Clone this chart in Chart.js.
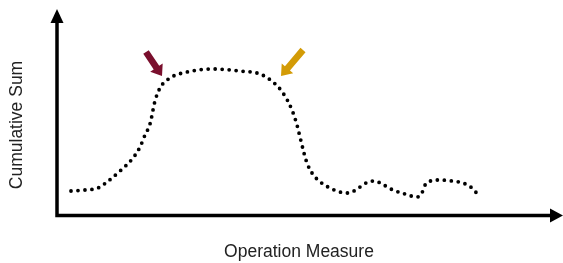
<!DOCTYPE html>
<html>
<head>
<meta charset="utf-8">
<script src="https://cdn.jsdelivr.net/npm/chart.js@4"></script>
<style>
  html, body { margin: 0; padding: 0; background: #fff; }
  #wrap { width: 563px; height: 263px; }
</style>
</head>
<body>
<div id="wrap"><canvas id="curveCanvas"></canvas></div>
<script>
// curve (x: operation measure, y: cumulative sum, 0..100)
const opMeasure = [2.8, 5.6, 8.2, 10, 12.6, 15.2, 16.6, 17.6, 18.6, 19.6, 20.6, 22.6, 26, 31.2, 36.6, 40.6, 43.2, 45.2, 47, 48, 48.6, 49.4, 50, 51, 52.2, 54.2, 56.6, 58, 59.4, 60.6, 62.2, 63.6, 65, 67.2, 69.6, 72, 73, 73.4, 74.2, 76.6, 79, 81.2, 83, 84.4];
const cumSum = [11.5, 12, 13, 16, 21.5, 28, 33.5, 39.5, 45, 56.5, 63, 68, 71, 72.5, 71.5, 70, 66, 60.5, 52, 44.5, 38.5, 30.5, 25.5, 20.5, 17, 13.5, 11, 10.5, 11.5, 13.5, 16, 16.5, 15, 12, 10, 8.5, 10.5, 13.5, 16, 17, 16.5, 15.5, 13, 9];

const xTitle = 'Operation Measure';
const yTitle = 'Cumulative Sum';

// 畫座標軸、箭頭與標題
const decorPlugin = {
  id: 'decor',
  afterDraw(chart) {
    const ctx = chart.ctx;
    const a = chart.chartArea;
    ctx.save();
    ctx.strokeStyle = '#000';
    ctx.fillStyle = '#000';
    ctx.lineWidth = 3.5;
    ctx.beginPath();
    ctx.moveTo(a.left, 20);
    ctx.lineTo(a.left, a.bottom + 1.5);
    ctx.lineTo(552, a.bottom + 1.5);
    ctx.stroke();
    // y arrowhead
    ctx.beginPath();
    ctx.moveTo(a.left, 9);
    ctx.lineTo(a.left - 6.5, 23);
    ctx.lineTo(a.left + 6.5, 23);
    ctx.closePath();
    ctx.fill();
    // x arrowhead
    ctx.beginPath();
    ctx.moveTo(563, a.bottom + 1.5);
    ctx.lineTo(550, a.bottom - 5.5);
    ctx.lineTo(550, a.bottom + 8.5);
    ctx.closePath();
    ctx.fill();

    // markers
    drawArrow(ctx, 146, 52, 162, 76, '#7a0f2d');
    drawArrow(ctx, 303, 50, 281, 76, '#d39b06');

    ctx.fillStyle = '#222';
    ctx.font = '17.5px "Liberation Sans", Arial, sans-serif';
    ctx.textAlign = 'center';
    ctx.textBaseline = 'middle';
    ctx.fillText(xTitle, 299, 252);
    ctx.translate(17, 125);
    ctx.rotate(-Math.PI / 2);
    ctx.fillText(yTitle, 0, 0);
    ctx.restore();
  }
};

function drawArrow(ctx, x0, y0, x1, y1, color) {
  const ang = Math.atan2(y1 - y0, x1 - x0);
  const len = Math.hypot(x1 - x0, y1 - y0);
  ctx.save();
  ctx.translate(x0, y0);
  ctx.rotate(ang);
  ctx.fillStyle = color;
  ctx.beginPath();
  ctx.moveTo(0, -3.3);
  ctx.lineTo(len - 10, -3.3);
  ctx.lineTo(len - 10, -7.5);
  ctx.lineTo(len, 0);
  ctx.lineTo(len - 10, 7.5);
  ctx.lineTo(len - 10, 3.3);
  ctx.lineTo(0, 3.3);
  ctx.closePath();
  ctx.fill();
  ctx.restore();
}

new Chart(document.getElementById('curveCanvas'), {
  type: 'line',
  data: {
    datasets: [{
      data: opMeasure.map((x, i) => ({ x: x, y: cumSum[i] })),
      borderColor: '#000',
      borderWidth: 3.8,
      borderDash: [0, 7],
      borderCapStyle: 'round',
      tension: 0.4,
      cubicInterpolationMode: 'monotone',
      pointRadius: 0,
      fill: false
    }]
  },
  options: {
    responsive: true,
    maintainAspectRatio: false,
    animation: false,
    layout: { padding: { left: 57, right: 6, top: 14, bottom: 49 } },
    scales: {
      x: { type: 'linear', min: 0, max: 100, display: false },
      y: { min: 0, max: 100, display: false }
    },
    plugins: { legend: { display: false }, tooltip: { enabled: false } }
  },
  plugins: [decorPlugin]
});
</script>
</body>
</html>
